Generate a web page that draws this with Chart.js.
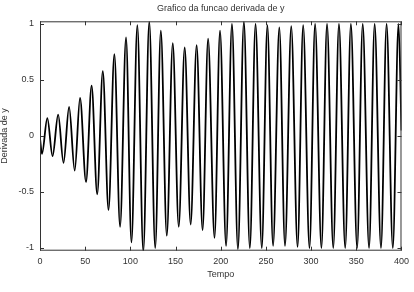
<!DOCTYPE html>
<html>
<head>
<meta charset="utf-8">
<script src="https://cdn.jsdelivr.net/npm/chart.js@4/dist/chart.umd.min.js"></script>
<style>
  html, body { margin: 0; padding: 0; background: #fff; }
  #wrap { width: 414px; height: 292px; }
</style>
</head>
<body>
<div id="wrap"><canvas id="myChart"></canvas></div>
<script>
// pontos (picos, vales e extremidades)
const tempo = [
    0, 2.2, 8.1, 13.9, 20.1, 26.0, 32.2, 38.4, 44.3, 50.9,
    57.1, 63.3, 69.5, 75.8, 82.3, 88.6, 95.2, 101.2, 107.7, 114.3,
    120.9, 127.5, 133.7, 140.3, 146.9, 153.5, 160.1, 166.7, 173.3, 179.9,
    186.0, 193.1, 199.2, 205.9, 212.4, 219.0, 225.6, 232.2, 238.5, 245.4,
    251.6, 257.9, 264.8, 271.1, 278.0, 285.0, 291.2, 298.2, 304.4, 311.4,
    317.6, 324.5, 330.8, 337.7, 344.0, 350.9, 357.1, 364.1, 370.3, 377.3,
    383.5, 390.4, 396.7, 400
];
const derivada = [
    -0.02, -0.16, 0.16, -0.18, 0.19, -0.24, 0.26, -0.31, 0.34, -0.41,
    0.45, -0.52, 0.58, -0.66, 0.73, -0.81, 0.88, -0.95, 0.99, -1.03,
    1.02, -1.0, 0.94, -0.89, 0.83, -0.81, 0.79, -0.79, 0.81, -0.84,
    0.87, -0.91, 0.94, -0.98, 1.0, -1.01, 1.02, -1.0, 1.0, -1.0,
    0.99, -0.98, 0.97, -0.98, 0.98, -0.99, 0.99, -1.0, 1.0, -1.0,
    1.0, -1.0, 1.0, -1.0, 1.0, -1.0, 1.0, -1.0, 1.0, -1.0,
    1.0, -1.0, 1.0, 0.05
];
const xTicks = [0, 50, 100, 150, 200, 250, 300, 350, 400];
const yTicks = [-1, -0.5, 0, 0.5, 1];

const fonte = { family: 'Liberation Sans, Arial, sans-serif', size: 9 };
const corTexto = '#333';

// moldura e tracinhos para dentro, estilo gnuplot
const bordaPlugin = {
    id: 'borda',
    afterDraw(chart) {
        const { ctx, chartArea: a, scales } = chart;
        const tl = 4;
        ctx.save();
        ctx.strokeStyle = '#333';
        ctx.lineWidth = 1;
        ctx.strokeRect(a.left + 0.5, a.top + 0.5, a.right - a.left - 1, a.bottom - a.top - 1);
        ctx.beginPath();
        xTicks.forEach(v => {
            const x = Math.round(scales.x.getPixelForValue(v)) + 0.5;
            ctx.moveTo(x, a.bottom); ctx.lineTo(x, a.bottom - tl);
            ctx.moveTo(x, a.top); ctx.lineTo(x, a.top + tl);
        });
        yTicks.forEach(v => {
            const y = Math.round(scales.y.getPixelForValue(v)) + 0.5;
            ctx.moveTo(a.left, y); ctx.lineTo(a.left + tl, y);
            ctx.moveTo(a.right, y); ctx.lineTo(a.right - tl, y);
        });
        ctx.stroke();
        ctx.restore();
    }
};

const ctx = document.getElementById('myChart');
new Chart(ctx, {
    type: 'line',
    data: {
        datasets: [{
            data: tempo.map((t, i) => ({ x: t, y: derivada[i] })),
            borderColor: '#000',
            borderWidth: 1.8,
            pointRadius: 0,
            fill: false,
            cubicInterpolationMode: 'monotone'
        }]
    },
    options: {
        animation: false,
        responsive: true,
        maintainAspectRatio: false,
        layout: { padding: { top: 0, right: 10, bottom: 0, left: 0 } },
        plugins: {
            legend: { display: false },
            tooltip: { enabled: false },
            title: {
                display: true,
                fullSize: false, // centraliza sobre a area do grafico
                text: 'Grafico da funcao derivada de y',
                color: corTexto,
                font: { family: fonte.family, size: 9, weight: 'normal', lineHeight: 1.2 },
                padding: { top: 3.6, bottom: 6.9 }
            }
        },
        scales: {
            x: {
                type: 'linear',
                min: 0,
                max: 400,
                afterBuildTicks: s => { s.ticks = xTicks.map(v => ({ value: v })); },
                afterFit: s => { s.height = 41.3; },
                grid: { display: false, drawTicks: false },
                border: { display: false },
                ticks: { color: corTexto, font: fonte, padding: 5, maxRotation: 0 },
                title: {
                    display: true,
                    text: 'Tempo',
                    color: corTexto,
                    font: fonte,
                    padding: { top: 0, bottom: 11.6 }
                }
            },
            y: {
                min: -1.024,
                max: 1.024,
                afterBuildTicks: s => { s.ticks = yTicks.map(v => ({ value: v })); },
                afterFit: s => { s.width = 40; },
                grid: { display: false, drawTicks: false },
                border: { display: false },
                ticks: { color: corTexto, font: fonte, padding: 6, callback: v => String(v) },
                title: {
                    display: true,
                    text: 'Derivada de y',
                    color: corTexto,
                    font: { family: fonte.family, size: 9, lineHeight: 1 },
                    padding: { top: 0, bottom: 0 }
                }
            }
        }
    },
    plugins: [bordaPlugin]
});
</script>
</body>
</html>
